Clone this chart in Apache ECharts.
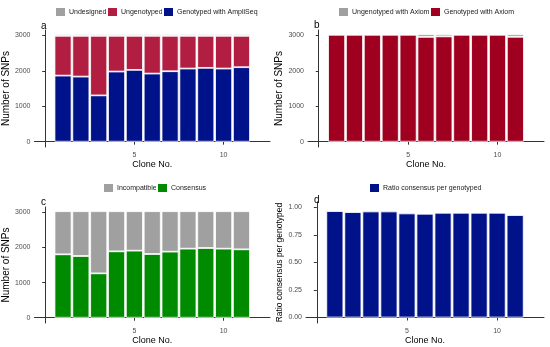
<!DOCTYPE html>
<html>
<head>
<meta charset="utf-8">
<script src="https://cdn.jsdelivr.net/npm/echarts@6/dist/echarts.min.js"></script>
<style>html,body{margin:0;padding:0;background:#fff}#c{width:550px;height:347px}</style>
</head>
<body>
<div id="c"></div>
<script>
// ---- data ----
var clones = [1,2,3,4,5,6,7,8,9,10,11];
// panel a
var genotypedAmpliSeq = [1864,1836,1306,1978,2025,1921,1987,2063,2082,2063,2101];
var ungenotypedAmpliSeq = [1121,1149,1679,1007,960,1064,998,922,903,922,884];
var undesigned = [45,45,45,45,45,45,45,45,45,45,45];
// panel b
var genotypedAxiom = [3015,3015,3015,3015,3015,2955,2970,3015,3015,3015,2958];
var ungenotypedAxiom = [15,15,15,15,15,75,60,15,15,15,72];
// panel c
var consensus = [1804,1756,1263,1889,1908,1813,1880,1965,1984,1965,1946];
var incompatible = [1226,1274,1767,1141,1122,1217,1150,1065,1046,1065,1084];
// panel d
var ratioConsensus = [0.967,0.958,0.964,0.964,0.946,0.943,0.952,0.952,0.952,0.952,0.931];
// ticks
var xTicks = [0,5,10];
var xLabels = [5,10];
var snpTicks = [0,1000,2000,3000];
var ratioTicks = [0,0.25,0.5,0.75,1];

// value first so that stacking happens on the value dimension
function pts(arr){ return clones.map(function(c,i){ return [arr[i], c]; }); }

var COL = {
  grey:'#A0A0A0', crimson:'#B11E41', navy:'#00128A', axred:'#A00020', green:'#008A00'
};
var font = 'Liberation Sans, Arial, Helvetica, sans-serif';

var grids = [
  {left:33, top:30, width:237, height:117},
  {left:308, top:30, width:236, height:117},
  {left:33, top:207, width:237, height:116},
  {left:306, top:202, width:238, height:121}
];

function xAx(i){
  return {
    type:'value', gridIndex:i, min:-0.6, max:12.6,
    name:'Clone No.', nameLocation:'middle', nameGap:13,
    nameTextStyle:{fontFamily:font, fontSize:9, color:'#000'},
    axisLine:{lineStyle:{color:'#333', width:1}},
    axisTick:{show:true, length:3, customValues:xTicks, lineStyle:{color:'#333'}},
    axisLabel:{customValues:xLabels, fontFamily:font, fontSize:7, color:'#4d4d4d', margin:5},
    splitLine:{show:false}
  };
}
function yAx(i, name, min, max, ticks, fmt, gap, fs){
  return {
    type:'value', gridIndex:i, min:min, max:max,
    name:name, nameLocation:'middle', nameGap:gap,
    nameTextStyle:{fontFamily:font, fontSize:fs, color:'#000'},
    axisLine:{show:true, lineStyle:{color:'#333', width:1}},
    axisTick:{show:true, length:3, customValues:ticks, lineStyle:{color:'#333'}},
    axisLabel:{customValues:ticks, fontFamily:font, fontSize:7, color:'#4d4d4d', margin:4,
      formatter: fmt},
    splitLine:{show:false}
  };
}

function bar(name, data, color, xi, stack){
  return {
    type:'bar', name:name, xAxisIndex:xi, yAxisIndex:xi, stack:stack,
    data:pts(data), encode:{x:1, y:0}, barWidth:17,
    itemStyle:{color:color, borderColor:'#fff', borderWidth:0.8},
    emphasis:{disabled:true}, animation:false
  };
}

function leg(name, left, top){
  return {
    data:[name], left:left, top:top, itemWidth:11, itemHeight:10, itemGap:0, padding:0,
    icon:'rect', selectedMode:false,
    textStyle:{fontFamily:font, fontSize:7, color:'#1a1a1a', padding:[0,0,0,-2]}
  };
}
var intFmt = function(v){ return String(Math.round(v)); };
var titleStyle = {fontFamily:font, fontSize:10, fontWeight:'normal', color:'#000'};

var option = {
  animation:false,
  backgroundColor:'#fff',
  title:[
    {text:'a', left:41, top:21, padding:0, textStyle:titleStyle},
    {text:'b', left:314, top:20, padding:0, textStyle:titleStyle},
    {text:'c', left:41, top:197, padding:0, textStyle:titleStyle},
    {text:'d', left:314, top:195, padding:0, textStyle:titleStyle}
  ],
  legend:[
    leg('Undesigned', 54, 6),
    leg('Ungenotyped', 106, 6),
    leg('Genotyped with AmpliSeq', 162, 6),
    leg('Ungenotyped with Axiom', 337, 6),
    leg('Genotyped with Axiom', 429, 6),
    leg('Incompatible', 102, 182),
    leg('Consensus', 156, 182),
    leg('Ratio consensus per genotyped', 368, 182)
  ],
  grid:grids,
  xAxis:[xAx(0), xAx(1), xAx(2), xAx(3)],
  yAxis:[
    yAx(0,'Number of SNPs',-150,3150,snpTicks,intFmt,17,10),
    yAx(1,'Number of SNPs',-150,3150,snpTicks,intFmt,17,10),
    yAx(2,'Number of SNPs',-150,3150,snpTicks,intFmt,17,10),
    yAx(3,'Ratio consensus per genotyped',-0.05,1.05,ratioTicks,function(v){return v.toFixed(2);},19,8.5)
  ],
  series:[
    bar('Genotyped with AmpliSeq', genotypedAmpliSeq, COL.navy, 0, 'a'),
    bar('Ungenotyped', ungenotypedAmpliSeq, COL.crimson, 0, 'a'),
    bar('Undesigned', undesigned, COL.grey, 0, 'a'),
    bar('Genotyped with Axiom', genotypedAxiom, COL.axred, 1, 'b'),
    bar('Ungenotyped with Axiom', ungenotypedAxiom, COL.grey, 1, 'b'),
    bar('Consensus', consensus, COL.green, 2, 'c'),
    bar('Incompatible', incompatible, COL.grey, 2, 'c'),
    bar('Ratio consensus per genotyped', ratioConsensus, COL.navy, 3, 'd')
  ]
};
var chart = echarts.init(document.getElementById('c'), null, {renderer:'canvas'});
chart.setOption(option);
</script>
</body>
</html>
